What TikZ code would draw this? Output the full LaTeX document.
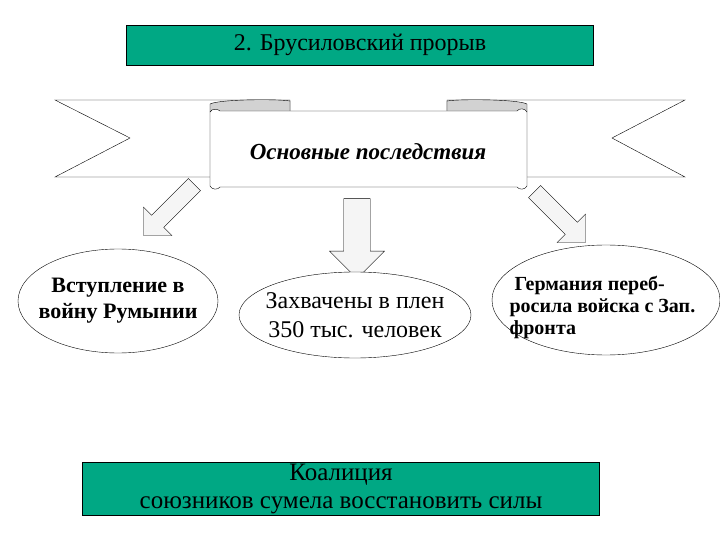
\documentclass[tikz,border=0pt]{standalone}
\usepackage{fontspec}
\setmainfont{Liberation Serif}
\usetikzlibrary{shapes.geometric,shapes.arrows}
\definecolor{teal1}{RGB}{0,168,132}
\tikzset{
  tbox/.style={draw,fill=teal1,minimum width=#1,minimum height=40pt,inner sep=0},
  ell/.style={draw,ellipse,fill=white,inner sep=0,align=center},
  barrow/.style={draw,single arrow,fill=gray!8,minimum height=72pt,minimum width=40pt,single arrow head extend=7pt,inner sep=5pt},
}
\begin{document}
\begin{tikzpicture}[x=1pt,y=-1pt]
\useasboundingbox (0,0) rectangle (720,540);
\node[tbox=467pt,minimum height=40pt,font=\fontsize{24}{26}\selectfont] (top) at (360,45) {2. Брусиловский прорыв};
% ribbon tails
\draw[fill=white] (55,100) -- (290,100) -- (290,177) -- (55,177) -- (130,138) -- cycle;
\draw[fill=white] (685,100) -- (447,100) -- (447,177) -- (685,177) -- (612,138) -- cycle;
\draw[fill=gray!35] (210,112) -- (210,104) .. controls (220,99) and (280,99) .. (290,101) -- (290,112) -- cycle;
\draw[fill=gray!35] (527,112) -- (527,104) .. controls (517,99) and (457,99) .. (447,101) -- (447,112) -- cycle;
% main banner
\draw[fill=white] (210,112) .. controls (212,108) and (218,109) .. (220,111) -- (517,111) .. controls (519,108) and (525,108) .. (527,112)
  -- (527,186) .. controls (525,190) and (519,190) .. (517,187) -- (220,187) .. controls (218,190) and (212,190) .. (210,186) -- cycle;
\node[font=\bfseries\itshape\fontsize{23}{26}\selectfont] (ban) at (368,152) {Основные последствия};
% arrows
\node[barrow,rotate=-135] (a1) at (172,207) {};
\node[barrow,rotate=-90,minimum height=80pt,minimum width=55pt,inner sep=11pt,single arrow head extend=12pt] (a2) at (357,232) {};
\node[barrow,rotate=-45] (a3) at (557,214) {};
% ellipses
\node[ell,minimum width=200pt,minimum height=104pt] (e1) at (118,301) {};
\node[font=\bfseries\fontsize{22}{26}\selectfont,align=center] (t1) at (118,301) {Вступление в\\войну Румынии};
\node[ell,minimum width=232pt,minimum height=86pt] (e2) at (355,315) {};
\node[font=\fontsize{24}{29}\selectfont,align=center] (t2) at (355,315) {Захвачены в плен\\350 тыс. человек};
\node[ell,minimum width=228pt,minimum height=110pt] (e3) at (606,300) {};
\node[font=\bfseries\fontsize{20}{22}\selectfont,align=left,anchor=north west] (t3) at (506,273) {\ Германия переб-\\росила войска с Зап.\\фронта};
% bottom box
\node[tbox=517pt,minimum height=53pt,font=\fontsize{25}{28}\selectfont,align=center] (bot) at (341,489) {Коалиция\\союзников сумела восстановить силы};
\end{tikzpicture}
\end{document}
